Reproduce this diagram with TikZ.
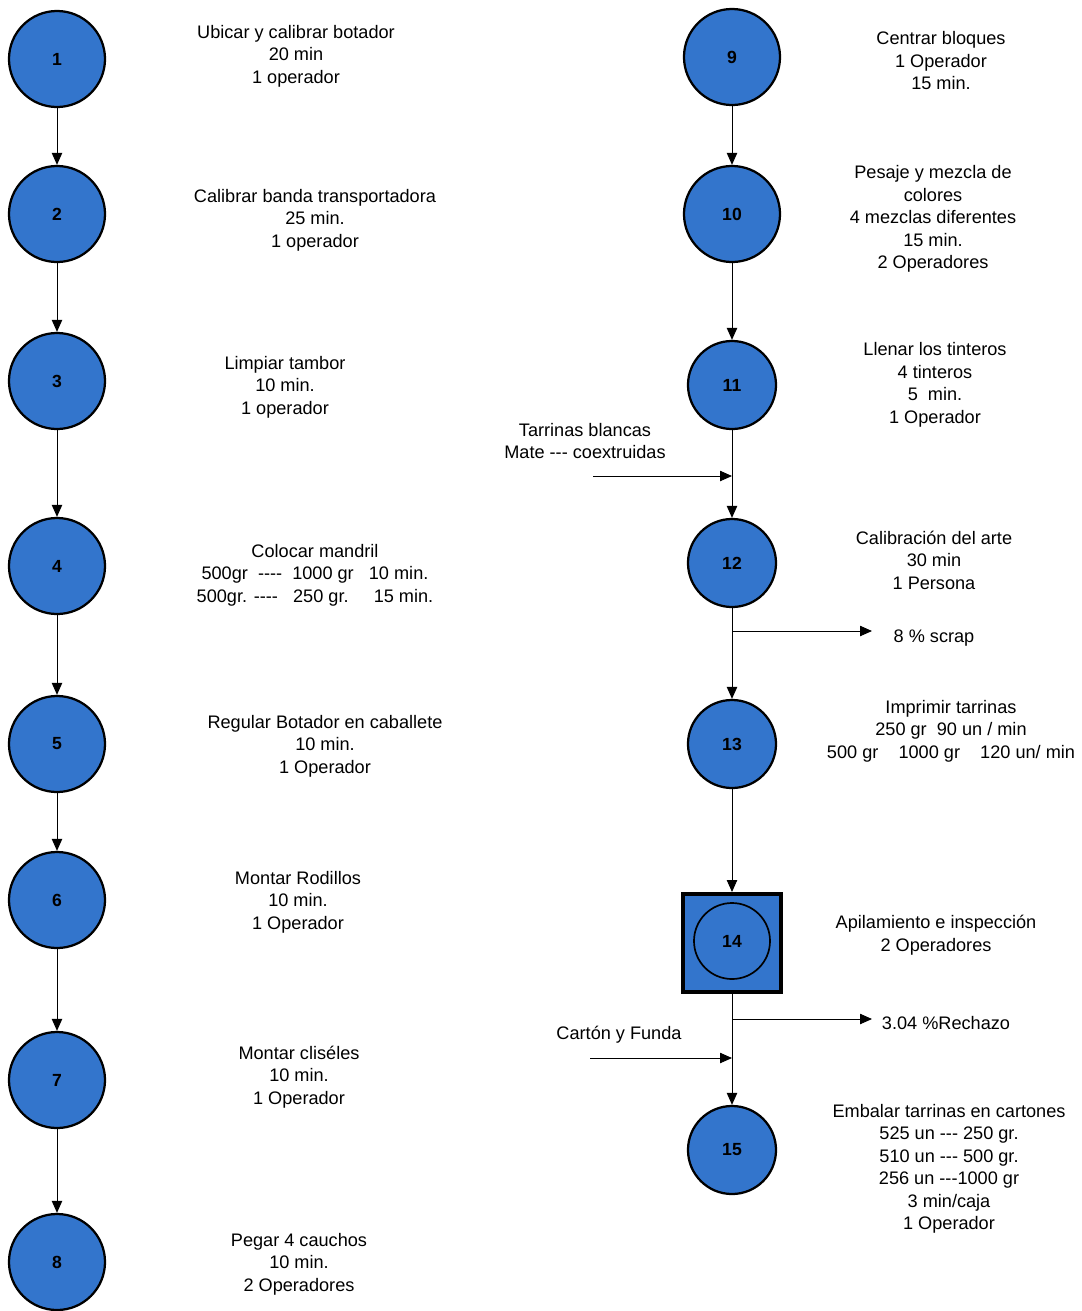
\documentclass[tikz,border=0pt]{standalone}
\usepackage{fontspec}
\setmainfont{Liberation Sans}
\usepackage{xcolor}
\usepackage{tikz}
\usetikzlibrary{arrows.meta, positioning}
\definecolor{opblue}{RGB}{51,117,204}
\newcommand{\dsh}{{-}}

\begin{document}
\begin{tikzpicture}[x=0.025cm, y=-0.025cm,
  op/.style={circle, draw, line width=1.6pt, fill=opblue, minimum size=2.4cm, inner sep=0pt, font=\fontsize{12.5}{14}\selectfont\bfseries},
  opsmall/.style={op, minimum size=2.2cm},
  insp/.style={draw, line width=2.8pt, fill=opblue, minimum size=2.45cm, inner sep=0pt},
  info/.style={align=center, font=\fontsize{12.9}{16}\selectfont, inner sep=0pt, yshift=-0.05cm},
  >={Triangle[length=0.3cm, width=0.26cm]}, line width=0.7pt]
  \useasboundingbox (0,0) rectangle (1081,1311);

  % left column
  \node[op] (c1) at (57,59) {1};
  \node[op] (c2) at (57,214) {2};
  \node[op] (c3) at (57,381) {3};
  \node[op] (c4) at (57,566) {4};
  \node[op] (c5) at (57,744) {5};
  \node[op] (c6) at (57,900) {6};
  \node[op] (c7) at (57,1080) {7};
  \node[op] (c8) at (57,1262) {8};

  \node[info] (t1) at (296,54) {Ubicar y calibrar botador\\20 min\\1 operador};
  \node[info] (t2) at (315,218) {Calibrar banda transportadora\\25 min.\\1 operador};
  \node[info] (t3) at (285,385) {Limpiar tambor\\10 min.\\1 operador};
  \node[info] (t4) at (315,573) {Colocar mandril\\500gr\ \ \dsh\dsh\dsh\dsh\ \ 1000 gr\ \ \ 10 min.\\500gr. \dsh\dsh\dsh\dsh\ \ \ 250 gr.\ \ \ \ \ 15 min.};
  \node[info] (t5) at (325,744) {Regular Botador en caballete\\10 min.\\1 Operador};
  \node[info] (t6) at (298,900) {Montar Rodillos\\10 min.\\1 Operador};
  \node[info] (t7) at (299,1075) {Montar cliséles\\10 min.\\1 Operador};
  \node[info] (t8) at (299,1262) {Pegar 4 cauchos\\10 min.\\2 Operadores};

  \foreach \a/\b in {c1/c2, c2/c3, c3/c4, c4/c5, c5/c6, c6/c7, c7/c8}
    \draw[->] (\a) -- (\b);

  % right column
  \node[op] (c9) at (732,57) {9};
  \node[op] (c10) at (732,214) {10};
  \node[opsmall] (c11) at (732,385) {11};
  \node[opsmall] (c12) at (732,563) {12};
  \node[opsmall] (c13) at (732,744) {13};
  \node[insp] (c14) at (732,943) {};
  \node[op, minimum size=1.9cm, line width=1.2pt] (c14in) at (732,941) {14};
  \node[opsmall] (c15) at (732,1150) {15};

  \node[info] (t9) at (941,59) {Centrar bloques\\1 Operador\\15 min.};
  \node[info] (t10) at (933,217) {Pesaje y mezcla de\\colores\\4 mezclas diferentes\\15 min.\\2 Operadores};
  \node[info] (t11) at (935,383) {Llenar los tinteros\\4 tinteros\\5\ \ min.\\1 Operador};
  \node[info] (t12) at (934,558) {Calibración del arte\\30 min\\1 Persona};
  \node[info] (t13) at (951,729) {Imprimir tarrinas\\250 gr\ \ 90 un / min\\500 gr\ \ \ \ 1000 gr\ \ \ \ 120 un/ min};
  \node[info] (t14) at (936,933) {Apilamiento e inspección\\2 Operadores};
  \node[info] (t15) at (949,1167) {Embalar tarrinas en cartones\\525 un \dsh\dsh\dsh{} 250 gr.\\510 un \dsh\dsh\dsh{} 500 gr.\\256 un \dsh\dsh\dsh1000 gr\\3 min/caja\\1 Operador};

  \node[info] (tarr) at (585,439) {Tarrinas blancas\\Mate \dsh\dsh\dsh{} coextruidas};
  \node[info] (scrap) at (934,636) {8 \% scrap};
  \node[info] (rech) at (946,1021) {3.04 \%Rechazo};
  \node[info] (carton) at (619,1033) {Cartón y Funda};

  \draw[->] (c9) -- (c10);
  \draw[->] (c10) -- (c11);
  \draw[->] (c11) -- (c12);
  \draw[->] (c12) -- (c13);
  \draw[->] (c13) -- (c14.north);
  \draw[->] (c14.south) -- (c15);

  % side flows
  \coordinate (tarrstart) at (593,476);
  \coordinate (scrapend) at (872,631);
  \coordinate (rechend) at (872,1019);
  \coordinate (cartonstart) at (590,1058);
  \draw[->] (tarrstart) -- (c11 |- tarrstart);
  \draw[->] (c12 |- scrapend) -- (scrapend);
  \draw[->] (c14 |- rechend) -- (rechend);
  \draw[->] (cartonstart) -- (c14 |- cartonstart);
\end{tikzpicture}
\end{document}
